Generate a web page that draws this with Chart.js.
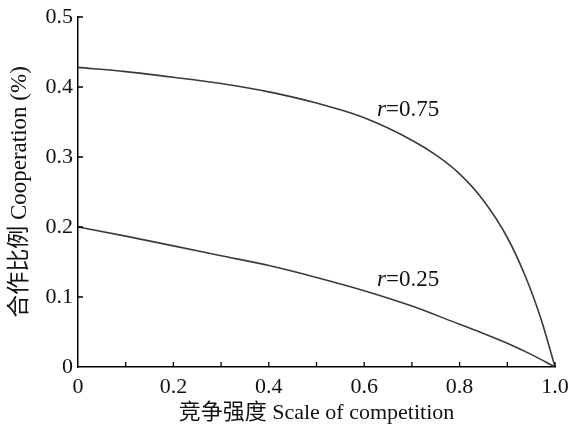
<!DOCTYPE html>
<html>
<head>
<meta charset="utf-8">
<script src="https://cdn.jsdelivr.net/npm/chart.js@4.4.0/dist/chart.umd.min.js"></script>
<style>
    html, body { margin: 0; padding: 0; background: #fff; }
</style>
</head>
<body>
<canvas id="chart" width="568" height="429"></canvas>
<script>
// Datos
const scaleHigh = [0, 0.1, 0.2, 0.3, 0.4, 0.5, 0.6, 0.7, 0.75, 0.8, 0.85, 0.9, 0.94, 0.97, 0.985, 1.0];
const coopHigh  = [0.428, 0.422, 0.414, 0.405, 0.393, 0.377, 0.356, 0.324, 0.303, 0.276, 0.238, 0.185, 0.126, 0.070, 0.036, 0];
const scaleLow  = [0, 0.1, 0.2, 0.3, 0.4, 0.5, 0.6, 0.7, 0.8, 0.85, 0.9, 0.95, 1.0];
const coopLow   = [0.200, 0.187, 0.173, 0.159, 0.145, 0.128, 0.109, 0.087, 0.061, 0.048, 0.034, 0.018, 0];
const seriesNames = ['0.75', '0.25'];
const labelAnchors = [[0.627, 0.367], [0.627, 0.125]];

const FONT = "'Liberation Serif', 'Noto Sans CJK SC', serif";

function toPoints(xs, ys) {
    return xs.map((x, i) => ({ x: x, y: ys[i] }));
}

// Ticks hacia dentro y etiquetas r=...
const innerTicks = {
    id: 'innerTicks',
    afterDraw(chart) {
        const ctx = chart.ctx;
        const xs = chart.scales.x;
        const ys = chart.scales.y;
        const area = chart.chartArea;
        ctx.save();
        ctx.strokeStyle = '#000';
        ctx.lineWidth = 1.3;
        ctx.beginPath();
        xs.ticks.forEach(t => {
            if (t.value === 0) return;
            const px = xs.getPixelForValue(t.value);
            ctx.moveTo(px, area.bottom);
            ctx.lineTo(px, area.bottom - 5);
        });
        ys.ticks.forEach(t => {
            if (t.value === 0) return;
            const py = ys.getPixelForValue(t.value);
            ctx.moveTo(area.left, py);
            ctx.lineTo(area.left + 5, py);
        });
        ctx.stroke();

        // Etiquetas de las curvas
        ctx.fillStyle = '#111';
        ctx.textBaseline = 'middle';
        ctx.textAlign = 'left';
        seriesNames.forEach((name, i) => {
            const px = xs.getPixelForValue(labelAnchors[i][0]);
            const py = ys.getPixelForValue(labelAnchors[i][1]);
            ctx.font = "italic 23px 'Liberation Serif', serif";
            ctx.fillText('r', px, py);
            const w = ctx.measureText('r').width;
            ctx.font = "23px 'Liberation Serif', serif";
            ctx.fillText('=' + name, px + w, py);
        });
        ctx.restore();
    }
};

const ctx = document.getElementById('chart').getContext('2d');
new Chart(ctx, {
    type: 'line',
    data: {
        datasets: [
            {
                label: 'r=' + seriesNames[0],
                data: toPoints(scaleHigh, coopHigh),
                borderColor: '#3a3a3a',
                borderWidth: 1.6,
                pointRadius: 0,
                cubicInterpolationMode: 'monotone',
                fill: false
            },
            {
                label: 'r=' + seriesNames[1],
                data: toPoints(scaleLow, coopLow),
                borderColor: '#3a3a3a',
                borderWidth: 1.6,
                pointRadius: 0,
                cubicInterpolationMode: 'monotone',
                fill: false
            }
        ]
    },
    options: {
        responsive: false,
        animation: false,
        devicePixelRatio: 1,
        layout: { padding: { top: 17, right: 13, left: 0, bottom: 0 } },
        plugins: {
            legend: { display: false },
            tooltip: { enabled: false }
        },
        scales: {
            x: {
                type: 'linear',
                min: 0,
                max: 1,
                afterFit: scale => {
                    scale.height = 62;
                    scale.paddingLeft = 0;
                    scale.paddingRight = 0;
                },
                border: { display: true, color: '#000', width: 1.5 },
                grid: { display: false, drawTicks: false },
                ticks: {
                    stepSize: 0.1,
                    autoSkip: false,
                    maxRotation: 0,
                    padding: 7,
                    color: '#111',
                    font: { family: FONT, size: 22 },
                    callback: function(value) {
                        const v = Math.round(value * 10);
                        if (v % 2 !== 0) return '';
                        if (v === 0) return '0';
                        return (v / 10).toFixed(1);
                    }
                },
                title: {
                    display: true,
                    text: '竞争强度 Scale of competition',
                    color: '#111',
                    font: { family: FONT, size: 22 },
                    padding: { top: 0, bottom: 3 }
                }
            },
            y: {
                min: 0,
                max: 0.5,
                afterFit: scale => {
                    scale.width = 78;
                    scale.paddingTop = 0;
                },
                border: { display: true, color: '#000', width: 1.5 },
                grid: { display: false, drawTicks: false },
                ticks: {
                    stepSize: 0.1,
                    padding: 5,
                    color: '#111',
                    font: { family: FONT, size: 22 },
                    callback: function(value) {
                        const v = Math.round(value * 10);
                        return v === 0 ? '0' : (v / 10).toFixed(1);
                    }
                },
                title: {
                    display: true,
                    text: '合作比例 Cooperation (%)',
                    color: '#111',
                    font: { family: FONT, size: 23 },
                    padding: { top: 6, bottom: 0 }
                }
            }
        }
    },
    plugins: [innerTicks]
});
</script>
</body>
</html>
